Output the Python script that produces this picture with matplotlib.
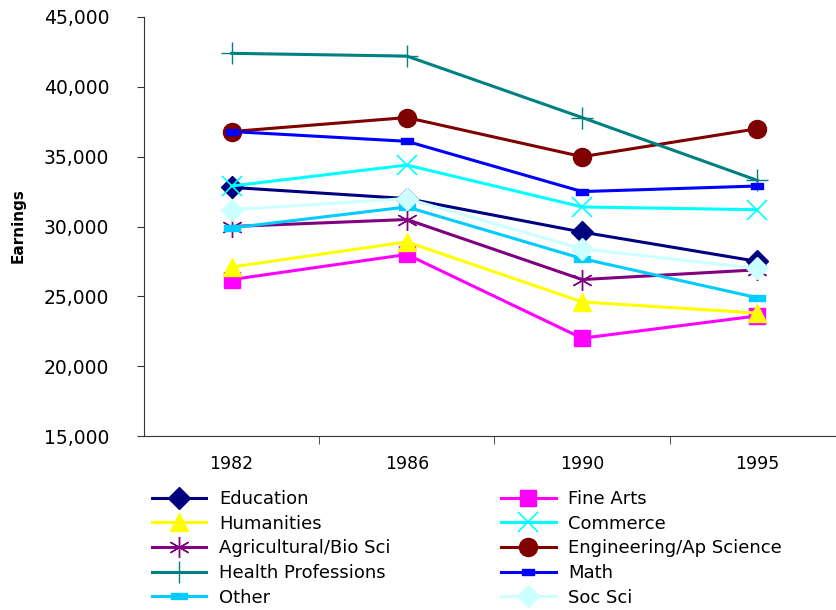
import matplotlib.pyplot as plt
from matplotlib.path import Path

plt.rcParams['font.family'] = ['DejaVu Sans']

years = ["1982", "1986", "1990", "1995"]

education = [32800, 32000, 29600, 27500]
fine_arts = [26200, 28000, 22000, 23600]
humanities = [27100, 28900, 24600, 23800]
commerce = [32900, 34400, 31400, 31200]
agri_bio = [30000, 30500, 26200, 26900]
engineering = [36800, 37800, 35000, 37000]
health = [42400, 42200, 37800, 33300]
math_ = [36800, 36100, 32500, 32900]
other = [29900, 31400, 27700, 24900]
soc_sci = [31200, 32000, 28400, 27000]

# flat rectangles for Math / Other
bar_small = Path([(-1, -0.6), (1, -0.6), (1, 0.6), (-1, 0.6), (-1, -0.6)],
                 [Path.MOVETO, Path.LINETO, Path.LINETO, Path.LINETO, Path.CLOSEPOLY])
bar_wide = Path([(-1, -0.35), (1, -0.35), (1, 0.35), (-1, 0.35), (-1, -0.35)],
                [Path.MOVETO, Path.LINETO, Path.LINETO, Path.LINETO, Path.CLOSEPOLY])

series = [
    ("Education", education, "#000080", "D", 11, 1),
    ("Fine Arts", fine_arts, "#FF00FF", "s", 12, 1),
    ("Humanities", humanities, "#FFFF00", "^", 13, 1),
    ("Commerce", commerce, "#00FFFF", "x", 14, 1.2),
    ("Agricultural/Bio Sci", agri_bio, "#800080", (6, 2, 0), 15, 1),
    ("Engineering/Ap Science", engineering, "#800000", "o", 13, 1),
    ("Health Professions", health, "#008080", "+", 16, 1),
    ("Math", math_, "#0000FF", bar_small, 8, 1),
    ("Other", other, "#00CCFF", bar_wide, 11, 1),
    ("Soc Sci", soc_sci, "#CCFFFF", "D", 11, 1),
]

fig = plt.figure(figsize=(8.36, 6.10), dpi=100)
ax = fig.add_axes([144 / 836, 174 / 610, 701 / 836, 419 / 610])

x = range(len(years))
handles = {}
for name, vals, col, mk, ms, mew in series:
    h, = ax.plot(x, vals, color=col, lw=2.2, marker=mk, markersize=ms,
                 markeredgewidth=mew, markerfacecolor=col, markeredgecolor=col,
                 label=name)
    handles[name] = h

ax.set_xlim(-0.5, 3.5)
ax.set_ylim(15000, 45000)
ax.set_yticks(range(15000, 45001, 5000))
ax.set_yticklabels([f"{v:,}" for v in range(15000, 45001, 5000)], fontsize=13.5)
ax.set_xticks(list(x))
ax.set_xticklabels(years, fontsize=12.5)
ax.tick_params(axis='x', which='major', length=0, pad=14)
ax.set_xticks([0.5, 1.5, 2.5], minor=True)
ax.tick_params(axis='x', which='minor', length=6, direction='out', color='#333333')
ax.tick_params(axis='y', length=5, direction='out', color='#333333', pad=20)
ax.spines['top'].set_visible(False)
ax.spines['right'].set_visible(False)
ax.spines['left'].set_color('#333333')
ax.spines['bottom'].set_color('#333333')
fig.text(18 / 836, 1 - 226 / 610, "Earnings", rotation=90, ha='center', va='center',
         fontsize=11, fontweight='bold')

# legend filled column-wise, so list left column first, then right column
order = ["Education", "Humanities", "Agricultural/Bio Sci", "Health Professions", "Other",
         "Fine Arts", "Commerce", "Engineering/Ap Science", "Math", "Soc Sci"]
fig.legend([handles[n] for n in order], order, ncol=2, frameon=False,
           loc='upper left', bbox_to_anchor=(152 / 836, 1 - 490 / 610),
           fontsize=13, handlelength=3.0, handletextpad=0.7, columnspacing=6.15,
           labelspacing=0.37, borderaxespad=0, borderpad=0)

fig.savefig("out.png", dpi=100)
